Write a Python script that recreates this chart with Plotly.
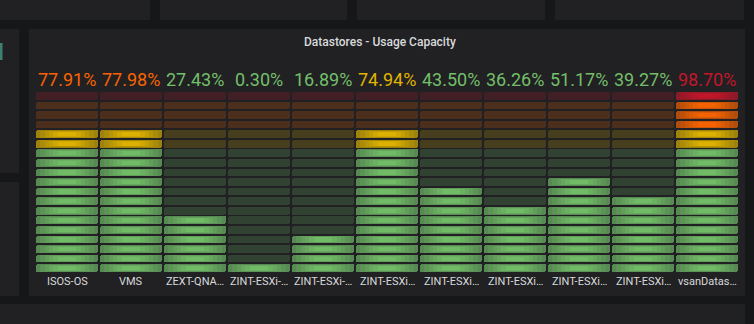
import plotly.graph_objects as go

# ---------------- data ----------------
categories = ["ISOS-OS", "VMS", "ZEXT-QNA…", "ZINT-ESXi-…", "ZINT-ESXi-…", "ZINT-ESXi…",
              "ZINT-ESXi…", "ZINT-ESXi…", "ZINT-ESXi…", "ZINT-ESXi…", "vsanDatas…"]
values = [77.91, 77.98, 27.43, 0.30, 16.89, 74.94, 43.50, 36.26, 51.17, 39.27, 98.70]
threshold_steps = [0, 65, 75, 90]
threshold_colors = ["#73BF69", "#E0B400", "#FA6400", "#C4162A"]
gauge_min, gauge_max = 0, 100
cell_count = 19
title_text = "Datastores - Usage Capacity"

# ---------------- style ----------------
W, H = 754, 324
PAGE_BG = "#161719"
PANEL_BG = "#212124"
TEXT = "#d8d9da"
L, R, T, B = 35, 15, 92, 52          # plot area pixels
PW, PH = W - L - R, H - T - B
CELL_W = 0.969                        # of one category slot
CELL_H = 0.8                          # of one cell step
UNLIT_ALPHA = 0.2
EDGE_A, CENTER_A = 0.66, 1.0
GLOW_SIZES = [1.0, 0.86, 0.72, 0.58, 0.44, 0.3]


def hex_rgb(h):
    h = h.lstrip("#")
    return tuple(int(h[i:i + 2], 16) for i in (0, 2, 4))


BG_RGB = hex_rgb(PANEL_BG)


def mix(col, a):
    c = hex_rgb(col)
    return "rgb(%d,%d,%d)" % tuple(round(a * c[k] + (1 - a) * BG_RGB[k]) for k in range(3))


def color_for(v):
    col = threshold_colors[0]
    for s, c in zip(threshold_steps, threshold_colors):
        if v >= s:
            col = c
    return col


def xp(px):
    return (px - L) / PW


def yp(py):
    return (H - B - py) / PH


step = (gauge_max - gauge_min) / cell_count
xs = list(range(len(categories)))

fig = go.Figure()

for li, a in enumerate(GLOW_SIZES):
    t = min(1.0, (1.0 - a) / 0.75)
    alpha = EDGE_A + (CENTER_A - EDGE_A) * t
    hf = 0.35 + 0.65 * a
    bx, bb, by, bc = [], [], [], []
    for ci, v in enumerate(values):
        for i in range(cell_count):
            cell_val = gauge_min + step * i
            lit = v > cell_val
            col = color_for(cell_val)
            if li > 0 and not lit:
                continue
            h = CELL_H * step * hf
            bx.append(xs[ci])
            bb.append(cell_val + (CELL_H * step - h) / 2)
            by.append(h)
            bc.append(mix(col, alpha) if lit else mix(col, UNLIT_ALPHA))
    fig.add_trace(go.Bar(x=bx, y=by, base=bb, width=CELL_W * a,
                         marker=dict(color=bc, line=dict(width=0),
                                     cornerradius=2 if li == 0 else 1),
                         hoverinfo="skip", showlegend=False))

# value texts and labels
annotations = []
for ci, (cat, v) in enumerate(zip(categories, values)):
    annotations.append(dict(x=xs[ci], xref="x", y=yp(79), yref="paper",
                            text="%.2f%%" % v, showarrow=False, xanchor="center", yanchor="middle",
                            font=dict(family="Roboto", size=18, color=color_for(v))))
    annotations.append(dict(x=xs[ci], xref="x", y=yp(281), yref="paper",
                            text=cat, showarrow=False, xanchor="center", yanchor="middle",
                            font=dict(family="Roboto", size=11, color=TEXT)))
annotations.append(dict(x=xp(380), xref="paper", y=yp(42), yref="paper", text=title_text,
                        showarrow=False, xanchor="center", yanchor="middle",
                        font=dict(family="Roboto", size=12, color=TEXT, weight=500)))


def rect(x0, y0, x1, y1, color):
    return dict(type="rect", xref="paper", yref="paper", layer="below",
                x0=xp(x0), x1=xp(x1), y0=yp(y1), y1=yp(y0),
                fillcolor=color, line=dict(width=0))


shapes = [
    rect(-5, -5, 150, 20, PANEL_BG),
    rect(160, -5, 347, 20, PANEL_BG),
    rect(357, -5, 545, 20, PANEL_BG),
    rect(555, -5, 744, 20, PANEL_BG),
    rect(-5, 29, 19, 173, PANEL_BG),
    rect(0, 43, 2.5, 60, "#3f7f70"),
    rect(-5, 182, 19, 296, PANEL_BG),
    rect(29, 29, 745, 296, PANEL_BG),
    rect(-5, 304, 745, 330, PANEL_BG),
]

fig.update_layout(
    width=W, height=H, autosize=False,
    margin=dict(l=L, r=R, t=T, b=B, pad=0),
    paper_bgcolor=PAGE_BG, plot_bgcolor="rgba(0,0,0,0)",
    barmode="overlay", bargap=0,
    xaxis=dict(range=[-0.5, len(categories) - 0.5], visible=False, fixedrange=True),
    yaxis=dict(range=[gauge_min, gauge_min + step * (cell_count - 1 + CELL_H)],
               visible=False, fixedrange=True),
    annotations=annotations, shapes=shapes, showlegend=False,
)

fig.write_html("out.html", config={"displayModeBar": False})
